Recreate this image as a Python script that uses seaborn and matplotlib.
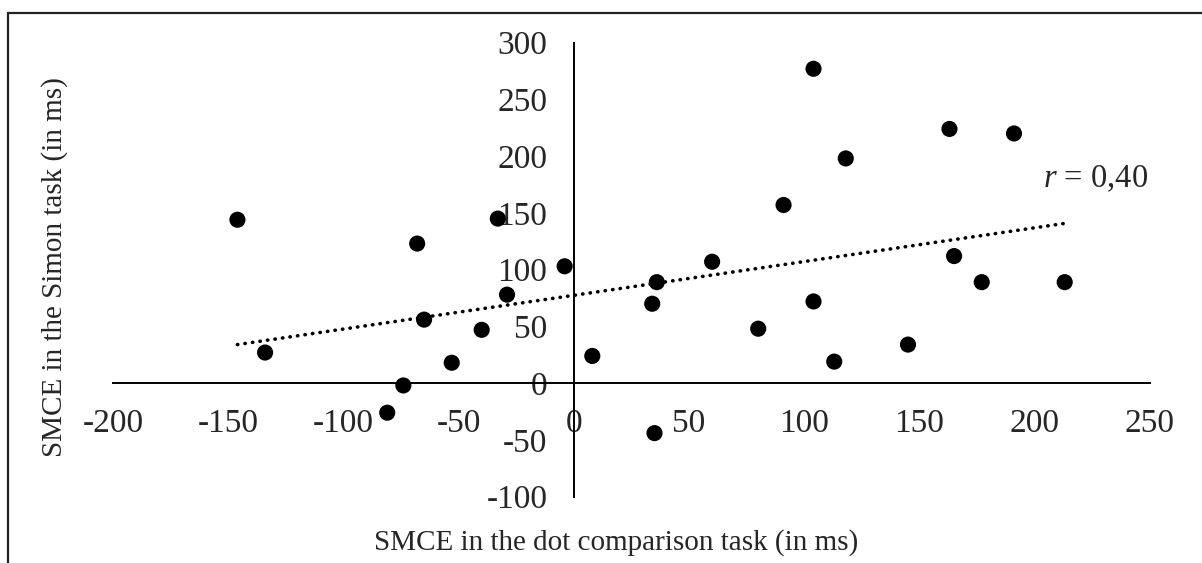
import numpy as np
import pandas as pd
import seaborn as sns
import matplotlib.pyplot as plt
from matplotlib.patches import Rectangle

# SMCE-Werte (ms)
dot_smce = [-146, -134, -81, -74, -68, -65, -53, -40, -33, -29, -4, 8, 34, 35,
            36, 60, 80, 91, 104, 104, 113, 118, 145, 163, 165, 177, 191, 213]
simon_smce = [144, 27, -26, -2, 123, 56, 18, 47, 145, 78, 103, 24, 70, -44,
              89, 107, 48, 157, 277, 72, 19, 198, 34, 224, 112, 89, 220, 89]

x_ticks = [-200, -150, -100, -50, 0, 50, 100, 150, 200, 250]
y_ticks = [-100, -50, 0, 50, 100, 150, 200, 250, 300]
r_label = "$r$ = 0,40"

data = pd.DataFrame({'dot': dot_smce, 'simon': simon_smce})

sns.set_style('white')
plt.rcParams['font.family'] = ['Liberation Serif', 'DejaVu Serif']
plt.rcParams['mathtext.fontset'] = 'custom'
plt.rcParams['mathtext.it'] = 'Liberation Serif:italic'
plt.rcParams['mathtext.rm'] = 'Liberation Serif'
plt.rcParams['axes.unicode_minus'] = False

fig = plt.figure(figsize=(12.02, 5.63), dpi=100)
ax = fig.add_axes([0.094, 0.1178, 0.8627, 0.8064])

# Punkte + lineare Trendlinie
sns.scatterplot(x='dot', y='simon', data=data, ax=ax, color='black', s=135,
                edgecolor='none', zorder=3)
sns.regplot(x='dot', y='simon', data=data, ax=ax, scatter=False, ci=None,
            color='black',
            line_kws={'linestyle': (0, (0.1, 2.0)), 'linewidth': 2.6,
                      'dash_capstyle': 'round'})

ax.set_xlim(-200, 250)
ax.set_ylim(-100, 300)
ax.set_xticks(x_ticks)
ax.set_yticks(y_ticks)
ax.set_xlabel('')
ax.set_ylabel('')

# Achsen im Ursprung kreuzen lassen (wie in Excel)
ax.spines['left'].set_position(('data', 0))
ax.spines['bottom'].set_position(('data', 0))
ax.spines['top'].set_visible(False)
ax.spines['right'].set_visible(False)
for s in ['left', 'bottom']:
    ax.spines[s].set_linewidth(1.4)
    ax.spines[s].set_color('black')
ax.tick_params(axis='both', direction='out', length=7, width=1.4,
               labelsize=24, color='black')
ax.tick_params(axis='x', pad=11)
ax.tick_params(axis='y', pad=12)

ax.text(203.5, 180, r_label, fontsize=23.5, ha='left', va='center')

fig.text(0.5125, 0.037, 'SMCE in the dot comparison task (in ms)',
         fontsize=21, ha='center', va='center')
fig.text(0.045, 0.526, 'SMCE in the Simon task (in ms)', fontsize=21,
         ha='center', va='center', rotation=90)

# Rahmen (nur links und oben sichtbar)
fig.patches.append(Rectangle((8 / 1202, -0.2), 1.1, 0.2 + 1 - 12.7 / 563,
                             transform=fig.transFigure, fill=False,
                             edgecolor='#222222', linewidth=1.6,
                             clip_on=False))

fig.savefig('out.png', dpi=100)
